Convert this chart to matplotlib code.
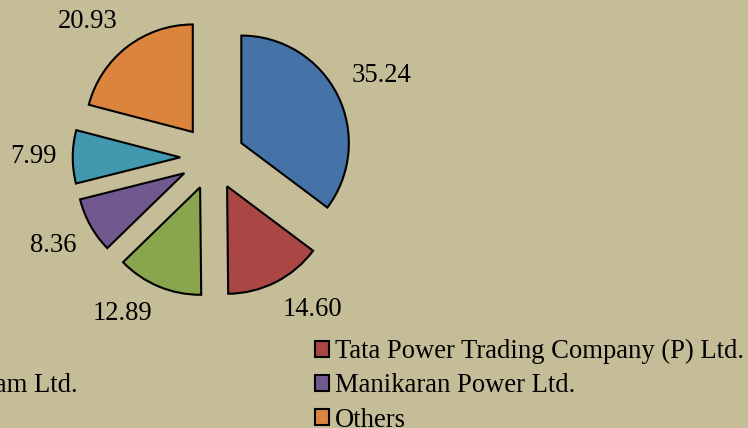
import numpy as np
import matplotlib
matplotlib.use("Agg")
import matplotlib.pyplot as plt

# market share of trading licensees (%)
companies = ["PTC India Ltd.",
             "Tata Power Trading Company (P) Ltd.",
             "NTPC Vidyut Vyapar Nigam Ltd.",
             "Manikaran Power Ltd.",
             "Adani Enterprises Ltd.",
             "Others"]
shares = [35.24, 14.60, 12.89, 8.36, 7.99, 20.93]
colors = ["#4572A7", "#AA4643", "#89A54E", "#71588F", "#4198AF", "#DB843D"]

bg = "#C4BD97"
plt.rcParams['font.family'] = ['Liberation Serif', 'DejaVu Serif']
fs = 19.2

fig = plt.figure(figsize=(7.48, 4.28), dpi=100, facecolor=bg)
ax = fig.add_axes([0, 0, 1, 1])
ax.set_facecolor(bg)

# work in pixel units so the layout is easy to line up
cx, cy, r = 212.5, 270.5, 107.5
expl = 0.3  # as a fraction of the radius

# matplotlib's explode is in data units, not radius units
wedges, _ = ax.pie(shares, colors=colors, startangle=90, counterclock=False,
                   radius=r, center=(cx, cy), explode=[expl * r] * len(shares),
                   wedgeprops=dict(edgecolor="black", linewidth=1.5))

# value labels outside each slice
total = sum(shares)
cum = 0.0
for v in shares:
    mid = (cum + v / 2) / total * 2 * np.pi
    cum += v
    dx, dy = np.sin(mid), np.cos(mid)
    d = 1.45 * r
    ha = "left" if dx > 0 else "right"
    if dy > 0.3:
        va = "bottom"
    elif dy < -0.3:
        va = "top"
    else:
        va = "center"
    ax.text(cx + d * dx, cy + d * dy, "%.2f" % v, ha=ha, va=va, fontsize=fs)

ax.set_xlim(0, 748)
ax.set_ylim(0, 428)
ax.set_aspect("auto")
ax.axis("off")

leg_kw = dict(frameon=False, fontsize=fs, borderpad=0, borderaxespad=0,
              handlelength=0.55, handleheight=0.55, handletextpad=0.22,
              labelspacing=0.35)

left = ax.legend([wedges[i] for i in (0, 2, 4)], [companies[i] for i in (0, 2, 4)],
                 loc="upper right", bbox_to_anchor=(78, 89),
                 bbox_transform=ax.transData, **leg_kw)
ax.add_artist(left)
ax.legend([wedges[i] for i in (1, 3, 5)], [companies[i] for i in (1, 3, 5)],
          loc="upper left", bbox_to_anchor=(314.7, 89),
          bbox_transform=ax.transData, **leg_kw)

fig.savefig("out.png", dpi=100, facecolor=bg)
